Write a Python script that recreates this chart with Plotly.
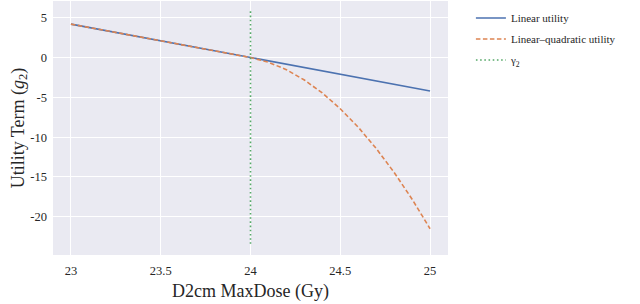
import plotly.graph_objects as go

dose = [23.0, 23.5, 24.0, 24.1, 24.2, 24.3, 24.4, 24.5, 24.6, 24.7, 24.8, 24.9, 25.0]
linear_utility = [4.2, 2.1, 0.0, -0.42, -0.84, -1.26, -1.68, -2.1, -2.52, -2.94, -3.36, -3.78, -4.2]
lq_utility = [4.2, 2.1, 0.0, -0.59, -1.53, -2.82, -4.45, -6.43, -8.75, -11.42, -14.43, -17.79, -21.5]
gamma2_x = [24.0, 24.0]
gamma2_y = [5.8, -23.4]

x_ticks = [23, 23.5, 24, 24.5, 25]
x_ticktext = ["23", "23.5", "24", "24.5", "25"]
y_ticks = [5, 0, -5, -10, -15, -20]
y_ticktext = ["5", "0", "-5", "-10", "-15", "-20"]

serif = "Liberation Serif"
ink = "#262626"

fig = go.Figure()
fig.add_trace(go.Scatter(x=dose, y=linear_utility, mode="lines", name="Linear utility",
                         legendgroup="a", line=dict(color="#4C72B0", width=1.6)))
fig.add_trace(go.Scatter(x=dose, y=lq_utility, mode="lines", name="Linear\u2013quadratic utility",
                         legendgroup="b", line=dict(color="#DD8452", width=1.6, dash="4.5px,2.5px")))
fig.add_trace(go.Scatter(x=gamma2_x, y=gamma2_y, mode="lines", name="\u03b3<sub>2</sub>",
                         legendgroup="c", line=dict(color="#55A868", width=1.6, dash="1.6px,2.6px")))

fig.update_layout(
    width=640, height=304,
    margin=dict(l=53, r=192, t=1, b=49),
    paper_bgcolor="white",
    plot_bgcolor="#EAEAF2",
    font=dict(family=serif, color=ink, size=12),
    showlegend=True,
    legend=dict(x=1.058, y=0.99, xanchor="left", yanchor="top",
                font=dict(size=11, family=serif, color=ink),
                bgcolor="rgba(255,255,255,0)", tracegroupgap=2),
)
fig.update_xaxes(range=[22.9, 25.1], tickvals=x_ticks, ticktext=x_ticktext, automargin=False,
                 showgrid=True, gridcolor="white", gridwidth=1.2, zeroline=False,
                 showline=False, ticks="", ticklabelstandoff=6,
                 tickfont=dict(size=12.5, family=serif, color=ink),
                 title=dict(text="D2cm MaxDose (Gy)", font=dict(size=18, family=serif, color=ink), standoff=7))
fig.update_yaxes(range=[-24.8, 7.1], tickvals=y_ticks, ticktext=y_ticktext, automargin=False,
                 showgrid=True, gridcolor="white", gridwidth=1.2, zeroline=False,
                 showline=False, ticks="", ticklabelstandoff=5,
                 tickfont=dict(size=12.5, family=serif, color=ink),
                 title=dict(text="Utility Term (<i>g</i><sub>2</sub>)", font=dict(size=18, family=serif, color=ink), standoff=0))

fig.write_html("out.html", config={"displayModeBar": False},
               post_script="document.body.style.margin='0px';")
